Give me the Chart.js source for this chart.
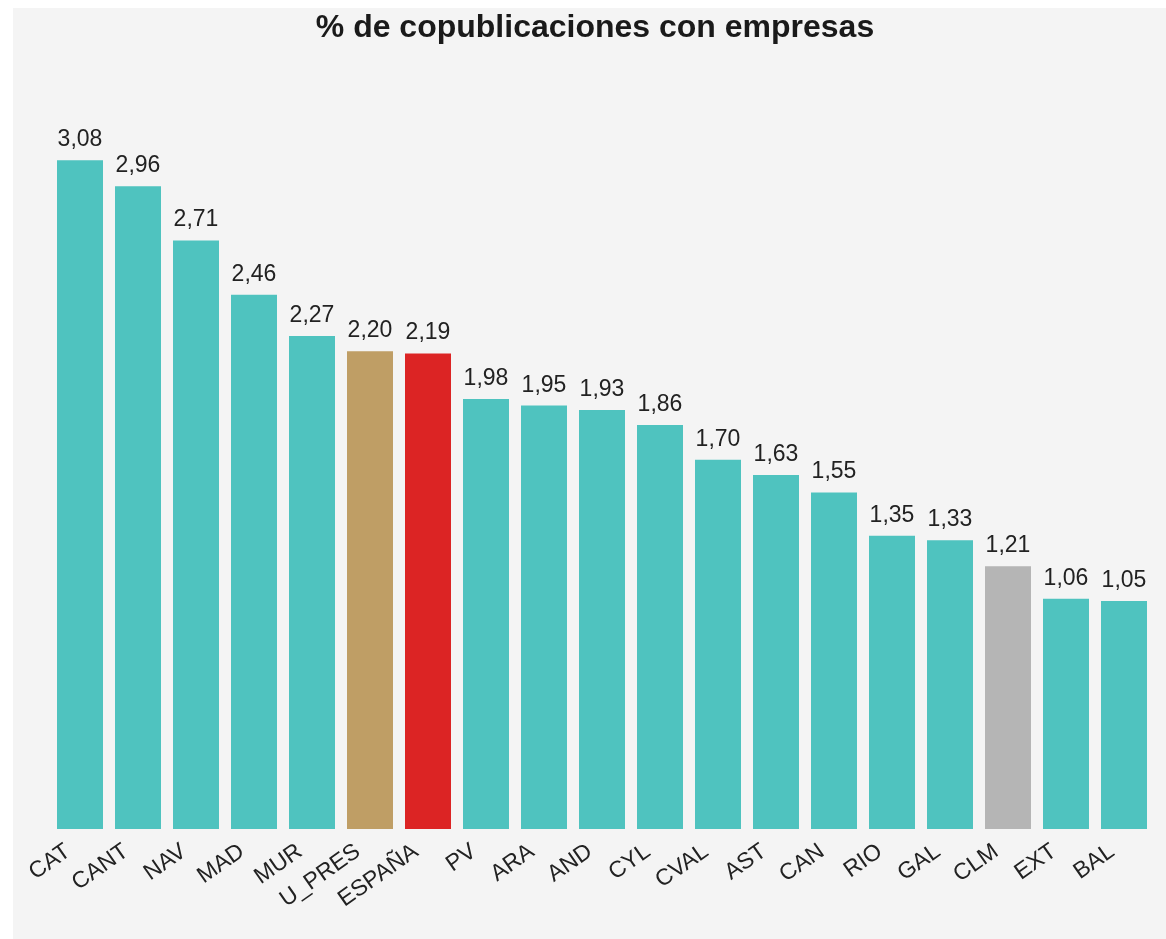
<!DOCTYPE html>
<html>
<head>
<meta charset="utf-8">
<script src="https://cdn.jsdelivr.net/npm/chart.js@4/dist/chart.umd.min.js"></script>
<style>
  html, body { margin: 0; padding: 0; background: #ffffff; }
  body { width: 1166px; height: 939px; position: relative; overflow: hidden; }
  #wrap { position: absolute; left: 13px; top: 8px; width: 1153px; height: 931px; background: #f4f4f4; }
  canvas { display: block; }
</style>
</head>
<body>
<div id="wrap"><canvas id="c" width="1153" height="931"></canvas></div>
<script>
const categories = ["CAT","CANT","NAV","MAD","MUR","U_PRES","ESPAÑA","PV","ARA","AND","CYL","CVAL","AST","CAN","RIO","GAL","CLM","EXT","BAL"];
const values = [3.08,2.96,2.71,2.46,2.27,2.20,2.19,1.98,1.95,1.93,1.86,1.70,1.63,1.55,1.35,1.33,1.21,1.06,1.05];
const highlight = { "U_PRES": "#bf9e65", "ESPAÑA": "#dc2424", "CLM": "#b5b5b5" };
const baseColor = "#4fc3bf";
const title = "% de copublicaciones con empresas";

const colors = categories.map(c => highlight[c] || baseColor);
const fmt = v => v.toFixed(2).replace('.', ',');

const valueLabels = {
  id: 'valueLabels',
  afterDatasetsDraw(chart) {
    const ctx = chart.ctx;
    const meta = chart.getDatasetMeta(0);
    ctx.save();
    ctx.font = '23px "Liberation Sans", Arial, sans-serif';
    ctx.fillStyle = '#222222';
    ctx.textAlign = 'center';
    ctx.textBaseline = 'alphabetic';
    meta.data.forEach((bar, i) => {
      ctx.fillText(fmt(values[i]), bar.x, bar.y - 14);
    });
    ctx.restore();
  }
};

new Chart(document.getElementById('c'), {
  type: 'bar',
  data: {
    labels: categories,
    datasets: [{
      data: values,
      backgroundColor: colors,
      borderWidth: 0,
      categoryPercentage: 1,
      barPercentage: 0.793
    }]
  },
  options: {
    responsive: false,
    animation: false,
    layout: { padding: { left: 24, right: 13, top: 0, bottom: 0 } },
    plugins: {
      legend: { display: false },
      tooltip: { enabled: false },
      title: {
        display: true,
        text: title,
        color: '#1a1a1a',
        font: { family: '"Liberation Sans", Arial, sans-serif', size: 32, weight: 'bold' },
        padding: { top: 1, bottom: 40 }
      }
    },
    scales: {
      y: {
        display: true,
        min: 0,
        max: 3.415,
        grid: { display: false },
        border: { display: false },
        ticks: { display: false },
        afterFit(scale) { scale.width = 14; }
      },
      x: {
        grid: { display: false },
        border: { display: false },
        ticks: {
          color: '#222222',
          font: { family: '"Liberation Sans", Arial, sans-serif', size: 23 },
          minRotation: 35,
          maxRotation: 35,
          autoSkip: false,
          padding: 1,
          labelOffset: -12
        },
        afterFit(scale) { scale.height = 110; }
      }
    }
  },
  plugins: [valueLabels]
});
</script>
</body>
</html>
